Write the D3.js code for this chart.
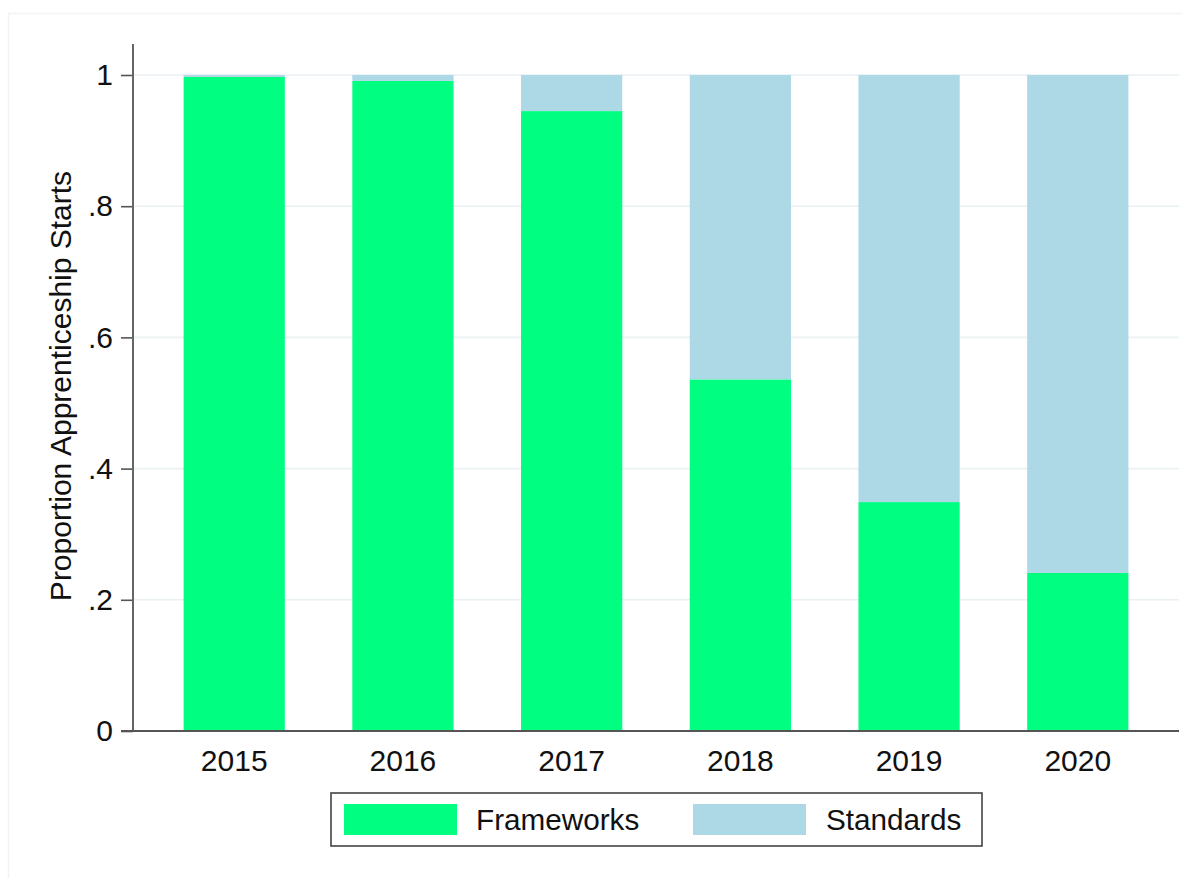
<!DOCTYPE html>
<html>
<head>
<meta charset="utf-8">
<script src="https://cdn.jsdelivr.net/npm/d3@7"></script>
<style>
  html, body { margin: 0; padding: 0; background: #fff; }
  svg { display: block; font-family: "Liberation Sans", Arial, sans-serif; }
</style>
</head>
<body>
<svg id="chart" width="1182" height="878"></svg>
<script>
const years = ["2015", "2016", "2017", "2018", "2019", "2020"];
const frameworks = [0.997, 0.991, 0.945, 0.536, 0.349, 0.241];
const standards = [0.003, 0.009, 0.055, 0.464, 0.651, 0.759];
const seriesNames = ["Frameworks", "Standards"];
const seriesColors = ["#00FF80", "#ADD8E6"];
const yTicks = [0, 0.2, 0.4, 0.6, 0.8, 1];
const yTickLabels = ["0", ".2", ".4", ".6", ".8", "1"];
const yTitle = "Proportion Apprenticeship Starts";

const svg = d3.select("#chart");
const W = 1182, H = 878;
const plot = { left: 133, right: 1179, top: 44, bottom: 731 };
const FS = 30;
const FS_LEG = 29.7;

// faint outer frame
svg.append("rect").attr("x", 8.5).attr("y", 13.5).attr("width", W + 10).attr("height", H + 10)
  .attr("fill", "none").attr("stroke", "#f1f3f4").attr("stroke-width", 1.5);

const x = d3.scaleBand().domain(years).range([plot.left, plot.right])
  .paddingInner(0.4).paddingOuter(0.3);
const y = d3.scaleLinear().domain([0, 1]).range([plot.bottom, 75]);

// gridlines
svg.append("g").selectAll("line").data(yTicks.filter(d => d > 0)).join("line")
  .attr("x1", plot.left).attr("x2", plot.right)
  .attr("y1", d => y(d)).attr("y2", d => y(d))
  .attr("stroke", "#e9f1f3").attr("stroke-width", 1.6);

// stacked data
const rows = years.map((yr, i) => ({ year: yr, Frameworks: frameworks[i], Standards: standards[i] }));
const stack = d3.stack().keys(seriesNames)(rows);
const color = d3.scaleOrdinal().domain(seriesNames).range(seriesColors);

svg.append("g").selectAll("g").data(stack).join("g")
  .attr("fill", d => color(d.key))
  .selectAll("rect").data(d => d).join("rect")
  .attr("x", d => x(d.data.year))
  .attr("width", x.bandwidth())
  .attr("y", d => y(Math.min(1, d[1])))
  .attr("height", d => y(d[0]) - y(Math.min(1, d[1])));

// y axis
const yAxis = d3.axisLeft(y).tickValues(yTicks)
  .tickFormat((d, i) => yTickLabels[i]).tickSize(12).tickPadding(8);
const gy = svg.append("g").attr("transform", `translate(${plot.left},0)`).call(yAxis);
gy.select(".domain").remove();
gy.selectAll(".tick line").attr("stroke", "#555").attr("stroke-width", 1.6);
gy.selectAll(".tick text").attr("font-size", FS).attr("fill", "#111")
  .attr("font-family", "Liberation Sans, Arial, sans-serif");
svg.append("line").attr("x1", plot.left).attr("x2", plot.left)
  .attr("y1", plot.top).attr("y2", plot.bottom)
  .attr("stroke", "#666").attr("stroke-width", 2);

// x axis
const xAxis = d3.axisBottom(x).tickSize(0).tickPadding(19);
const gx = svg.append("g").attr("transform", `translate(0,${plot.bottom})`).call(xAxis);
gx.select(".domain").remove();
gx.selectAll(".tick text").attr("font-size", FS).attr("fill", "#111")
  .attr("font-family", "Liberation Sans, Arial, sans-serif");
svg.append("line").attr("x1", plot.left - 12).attr("x2", plot.right)
  .attr("y1", plot.bottom).attr("y2", plot.bottom)
  .attr("stroke", "#555").attr("stroke-width", 2);

// y title
svg.append("text")
  .attr("transform", `translate(71,386) rotate(-90)`)
  .attr("text-anchor", "middle")
  .attr("font-size", FS).attr("fill", "#111")
  .text(yTitle);

// legend
const lg = svg.append("g");
lg.append("rect").attr("x", 331).attr("y", 793).attr("width", 651).attr("height", 53)
  .attr("fill", "#fff").attr("stroke", "#444").attr("stroke-width", 1.6);
const swX = [344, 693], txX = [476, 826];
seriesNames.forEach((name, i) => {
  lg.append("rect").attr("x", swX[i]).attr("y", 804).attr("width", 113).attr("height", 31)
    .attr("fill", seriesColors[i]);
  lg.append("text").attr("x", txX[i]).attr("y", 830).attr("font-size", FS_LEG)
    .attr("fill", "#111").text(name);
});
</script>
</body>
</html>
